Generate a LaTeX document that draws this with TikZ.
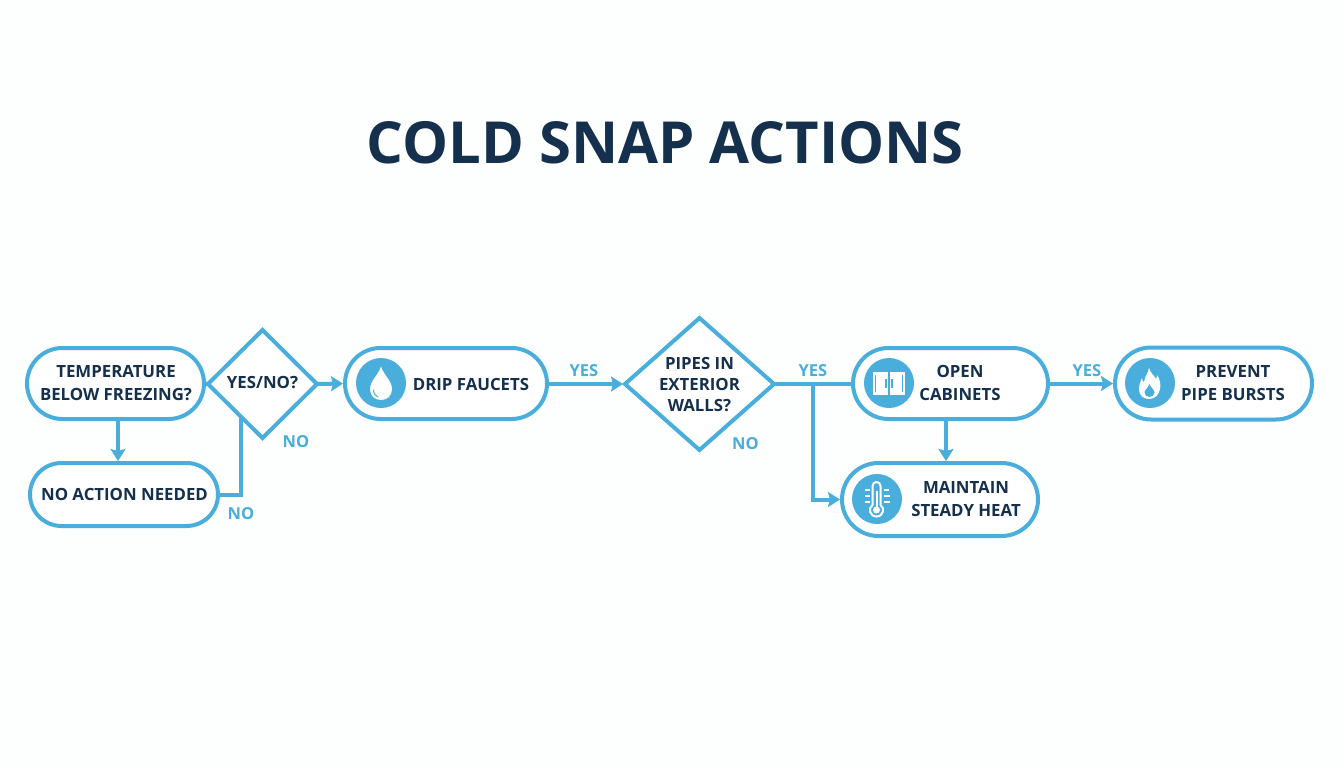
\documentclass[tikz,border=0pt]{standalone}
\usepackage{fontspec}
\setmainfont{Open Sans}
\usetikzlibrary{shapes.geometric,shapes.misc,arrows.meta}
\definecolor{ink}{HTML}{14304D}
\definecolor{sky}{HTML}{49AEDB}
\definecolor{paper}{HTML}{FDFEFE}
\newcommand{\dtext}[2]{\raisebox{#1}{\smash{\makebox[0pt]{\begin{tabular}{@{}c@{}}#2\end{tabular}}}}}
\tikzset{
  x=1pt,y=-1pt,
  pill/.style={rounded rectangle,draw=sky,line width=4pt,fill=white,inner sep=0pt,outer sep=0pt},
  choice/.style={diamond,draw=sky,line width=4pt,fill=white,inner sep=0pt,outer sep=0pt,aspect=1},
  txt/.style={text=ink,font=\bfseries\fontsize{16.8}{22.5}\selectfont,align=center,inner sep=0pt},
  lbl/.style={text=sky,font=\bfseries\fontsize{16.5}{18}\selectfont,inner sep=0pt},
  link/.style={draw=sky,line width=4pt},
  arrow/.style={link,-{Stealth[length=12pt,width=15pt,inset=2pt]},shorten >=2pt},
  disc/.style={circle,fill=sky,minimum size=50pt,inner sep=0pt},
}
\begin{document}
\begin{tikzpicture}
\useasboundingbox (0,0) rectangle (1344,768);
\fill[paper] (0,0) rectangle (1344,768);
\node[text=ink,font=\bfseries\fontsize{58}{60}\selectfont,inner sep=0pt] (title) at (665,143) {COLD SNAP ACTIONS};

% shapes
\node[pill,minimum width=177pt,minimum height=71pt] (n1) at (115.5,383.5) {};
\node[pill,minimum width=188pt,minimum height=63pt] (n2) at (124,494.5) {};
\node[pill,minimum width=202pt,minimum height=71pt] (n3) at (446,383.5) {};
\node[pill,minimum width=195pt,minimum height=71pt] (n4) at (950.5,383.5) {};
\node[pill,minimum width=196pt,minimum height=73pt] (n5) at (940,499.5) {};
\node[pill,minimum width=197pt,minimum height=72pt] (n6) at (1213.5,383.5) {};
\node[choice,minimum width=109pt,minimum height=108pt,font=\bfseries\fontsize{16.8}{22}\selectfont,text=ink] (d1) at (262.5,384) {\dtext{-9pt}{YES/NO?}};
\node[choice,minimum width=149pt,minimum height=132pt,font=\bfseries\fontsize{16.8}{21}\selectfont,text=ink] (d2) at (699.5,384) {\dtext{-12.5pt}{PIPES IN\\EXTERIOR\\WALLS?}};

% pill texts
\node[txt] (t1) at (116,383) {TEMPERATURE\\BELOW FREEZING?};
\node[txt] (t2) at (124.5,494.5) {NO ACTION NEEDED};
\node[txt] (t3) at (471,384) {DRIP FAUCETS};
\node[txt] (t4) at (960,383) {OPEN\\CABINETS};
\node[txt] (t5) at (966,499) {MAINTAIN\\STEADY HEAT};
\node[txt] (t6) at (1233,383) {PREVENT\\PIPE BURSTS};

% connectors
\coordinate (c1) at (118,440);
\coordinate (c2) at (241,417);
\coordinate (c3) at (813,384);
\coordinate (c4) at (946,440);
\draw[link] (n1.east) -- (d1.west);
\draw[arrow] (c1 |- n1.south) -- (c1 |- n2.north);
\draw[link] (n2.east) -| (c2);
\draw[arrow] (d1.east) -- (n3.west);
\draw[arrow] (n3.east |- d2.west) -- (d2.west);
\draw[link] (d2.east) -- (n4.west |- d2.east);
\draw[arrow] (c3) |- (n5.west);
\draw[arrow] (c4 |- n4.south) -- (c4 |- n5.north);
\draw[arrow] (n4.east) -- (n6.west);

% edge labels
\node[lbl] (l1) at (296,442) {NO};
\node[lbl] (l2) at (241,513.5) {NO};
\node[lbl] (l3) at (584,371) {YES};
\node[lbl] (l4) at (813,371) {YES};
\node[lbl] (l5) at (745.5,443.5) {NO};
\node[lbl] (l6) at (1087,370.5) {YES};

% drip icon
\node[disc] (i3) at (381,383) {};
\fill[white] (381,366.5) .. controls (379,374) and (370,381) .. (370,389) .. controls (370,396) and (375,400) .. (381,400) .. controls (387,400) and (392,396) .. (392,389) .. controls (392,381) and (383,374) .. (381,366.5) -- cycle;
\draw[sky,line width=1pt,line cap=round] (373.5,390) .. controls (373.5,393.5) and (375.5,396) .. (378,397);

% cabinet icon
\node[disc] (i4) at (889,383) {};
\fill[white] (873,372) rectangle (905,395);
\draw[sky,line width=1.2pt] (875.5,375) -- (875.5,392) (902.5,375) -- (902.5,392);
\draw[sky,line width=1.2pt] (886,379) -- (886,388) (892,379) -- (892,388);
\draw[sky,line width=1.2pt] (889,372) -- (889,395);

% thermometer icon
\node[disc] (i5) at (877,499) {};
\draw[white,line width=2pt] (872.5,505) -- (872.5,486) .. controls (872.5,480.7) and (880.5,480.7) .. (880.5,486) -- (880.5,505) .. controls (885,508) and (883.5,516.5) .. (876.5,516.5) .. controls (869.5,516.5) and (868,508) .. (872.5,505) -- cycle;
\fill[white] (876.5,510) circle (3.5);
\draw[white,line width=2pt] (876.5,491) -- (876.5,508);
\draw[white,line width=1.2pt] (865,490) -- (870,490) (864.5,496) -- (870,496) (864.5,502) -- (870,502) (884,490) -- (889,490) (884,496) -- (889.5,496) (884,502) -- (889.5,502);

% flame icon
\node[disc] (i6) at (1150,383) {};
\fill[white] (1149,368) .. controls (1151,374) and (1154,375) .. (1156,379) .. controls (1157,377) and (1157,376) .. (1157,375) .. controls (1160,379) and (1161,385) .. (1160,389) .. controls (1159,395) and (1155,399) .. (1149,399) .. controls (1143,399) and (1139,395) .. (1139,389) .. controls (1139,384) and (1141,381) .. (1142,378) .. controls (1142,380) and (1143,382) .. (1144,382) .. controls (1145,376) and (1148,373) .. (1149,368) -- cycle;
\fill[sky] (1149.5,384) .. controls (1148,388) and (1144.5,390) .. (1144.5,392.5) .. controls (1144.5,395) and (1147,397) .. (1149.5,397) .. controls (1152,397) and (1154.5,395) .. (1154.5,392.5) .. controls (1154.5,390) and (1151,388) .. (1149.5,384) -- cycle;
\end{tikzpicture}
\end{document}
